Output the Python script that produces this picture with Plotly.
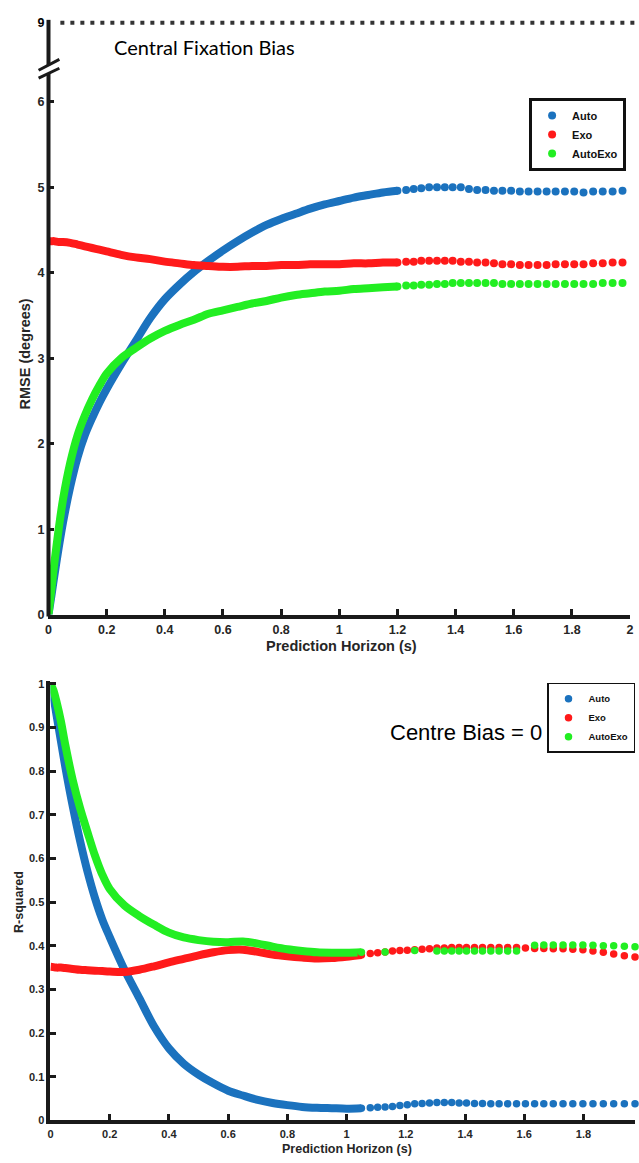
import plotly.graph_objects as go

W, H = 639, 1163

# ---------------- data: top panel (RMSE, degrees) ----------------
horizon_top = [0, 0.01, 0.02, 0.035, 0.05, 0.075, 0.1, 0.125, 0.15, 0.175, 0.2, 0.25, 0.3, 0.35,
               0.4, 0.45, 0.5, 0.55, 0.6, 0.65, 0.7, 0.75, 0.8, 0.85, 0.9, 0.95, 1.0, 1.05, 1.1,
               1.15, 1.2, 1.23, 1.256, 1.282, 1.309, 1.336, 1.363, 1.39, 1.418, 1.446, 1.474,
               1.503, 1.532, 1.561, 1.591, 1.621, 1.651, 1.682, 1.713, 1.744, 1.776, 1.808,
               1.84, 1.873, 1.906, 1.94, 1.974]
rmse_auto = [0, 0.22, 0.45, 0.78, 1.08, 1.5, 1.84, 2.1, 2.3, 2.48, 2.64, 2.93, 3.2, 3.47, 3.69,
             3.86, 4.01, 4.14, 4.26, 4.37, 4.47, 4.56, 4.63, 4.69, 4.75, 4.80, 4.84, 4.88, 4.91,
             4.94, 4.96,
             4.97, 4.98, 4.99, 5.0, 5.0, 5.0, 5.0, 5.0, 4.98, 4.97, 4.97, 4.96, 4.96, 4.96, 4.95,
             4.95, 4.95, 4.95, 4.95, 4.95, 4.95, 4.94, 4.95, 4.95, 4.95, 4.96]
rmse_exo = [4.37, 4.37, 4.37, 4.36, 4.36, 4.35, 4.33, 4.31, 4.29, 4.27, 4.25, 4.21, 4.18, 4.16,
            4.13, 4.11, 4.09, 4.08, 4.07, 4.07, 4.08, 4.08, 4.09, 4.09, 4.10, 4.10, 4.10, 4.11,
            4.11, 4.12, 4.12,
            4.13, 4.13, 4.14, 4.14, 4.14, 4.14, 4.14, 4.13, 4.13, 4.12, 4.12, 4.11, 4.10, 4.10,
            4.09, 4.09, 4.09, 4.09, 4.10, 4.10, 4.10, 4.10, 4.11, 4.11, 4.12, 4.12]
rmse_autoexo = [0, 0.3, 0.6, 1.0, 1.35, 1.78, 2.1, 2.33, 2.52, 2.68, 2.82, 3.0, 3.12, 3.23, 3.32,
                3.39, 3.45, 3.52, 3.56, 3.6, 3.64, 3.67, 3.71, 3.74, 3.76, 3.78, 3.79, 3.81,
                3.82, 3.83, 3.84,
                3.85, 3.85, 3.86, 3.86, 3.87, 3.87, 3.88, 3.88, 3.88, 3.88, 3.88, 3.88, 3.87,
                3.87, 3.87, 3.87, 3.87, 3.87, 3.87, 3.87, 3.87, 3.87, 3.87, 3.88, 3.88, 3.88]
TOP_SPLIT = 30          # from this index on the samples are drawn as separate markers

top_x_ticks = [0, 0.2, 0.4, 0.6, 0.8, 1, 1.2, 1.4, 1.6, 1.8, 2]
top_x_labels = ["0", "0.2", "0.4", "0.6", "0.8", "1", "1.2", "1.4", "1.6", "1.8", "2"]
top_y_ticks = [0, 1, 2, 3, 4, 5, 6]
top_y_labels = ["0", "1", "2", "3", "4", "5", "6"]
BROKEN_LABEL = "9"      # value shown above the axis break
BROKEN_POS = 6.925      # axis position used for the value 9

# ---------------- data: bottom panel (R-squared) ----------------
horizon_bot = [0, 0.01, 0.02, 0.035, 0.05, 0.075, 0.1, 0.125, 0.15, 0.175, 0.2, 0.25, 0.3, 0.35,
               0.4, 0.45, 0.5, 0.55, 0.6, 0.65, 0.7, 0.75, 0.8, 0.85, 0.9, 0.95, 1.0, 1.05,
               1.08, 1.105, 1.13, 1.155, 1.18, 1.205, 1.23, 1.255, 1.28, 1.305, 1.33, 1.355,
               1.38, 1.405, 1.432, 1.459, 1.487, 1.515, 1.544, 1.574, 1.604, 1.635, 1.666,
               1.698, 1.731, 1.764, 1.798, 1.832, 1.867, 1.902, 1.938, 1.974]
r2_auto = [1.0, 0.97, 0.93, 0.87, 0.81, 0.72, 0.64, 0.57, 0.51, 0.46, 0.42, 0.345, 0.28, 0.215,
           0.165, 0.13, 0.105, 0.085, 0.068, 0.057, 0.047, 0.04, 0.035, 0.031, 0.029, 0.028,
           0.027, 0.028,
           0.029, 0.03, 0.031, 0.032, 0.034, 0.036, 0.038, 0.039, 0.04, 0.041, 0.041, 0.041,
           0.04, 0.04, 0.039, 0.039, 0.038, 0.038, 0.038, 0.038, 0.038, 0.038, 0.038, 0.038,
           0.038, 0.038, 0.038, 0.038, 0.038, 0.038, 0.038, 0.038]
r2_exo = [0.352, 0.351, 0.35, 0.35, 0.349, 0.347, 0.345, 0.344, 0.343, 0.342, 0.341, 0.34,
          0.345, 0.353, 0.362, 0.37, 0.378, 0.385, 0.39, 0.391, 0.386, 0.38, 0.376, 0.373,
          0.371, 0.372, 0.375, 0.379,
          0.382, 0.384, 0.386, 0.388, 0.389, 0.39, 0.391, 0.392, 0.393, 0.395, 0.395, 0.396,
          0.396, 0.396, 0.396, 0.396, 0.396, 0.396, 0.396, 0.396, 0.395, 0.394, 0.394, 0.393,
          0.393, 0.392, 0.391, 0.388, 0.385, 0.381, 0.377, 0.374]
r2_autoexo = [1.0, 0.985, 0.96, 0.915, 0.86, 0.78, 0.715, 0.66, 0.607, 0.563, 0.53, 0.492, 0.468,
              0.448, 0.43, 0.419, 0.413, 0.409, 0.408, 0.41, 0.405, 0.398, 0.392, 0.388, 0.385,
              0.384, 0.384, 0.385,
              None, None, 0.386, None, None, None, 0.389, None, None, 0.388, 0.388, 0.388,
              0.388, 0.388, 0.388, 0.388, 0.388, 0.388, 0.388, 0.388, None, 0.401, 0.402,
              0.402, 0.402, 0.402, 0.402, 0.401, 0.4, 0.4, 0.399, 0.398]
BOT_SPLIT = 27

bot_x_ticks = [0, 0.2, 0.4, 0.6, 0.8, 1, 1.2, 1.4, 1.6, 1.8]
bot_x_labels = ["0", "0.2", "0.4", "0.6", "0.8", "1", "1.2", "1.4", "1.6", "1.8"]
bot_y_ticks = [0, 0.1, 0.2, 0.3, 0.4, 0.5, 0.6, 0.7, 0.8, 0.9, 1]
bot_y_labels = ["0", "0.1", "0.2", "0.3", "0.4", "0.5", "0.6", "0.7", "0.8", "0.9", "1"]

series_names = ["Auto", "Exo", "AutoExo"]
series_colors = ["#1b72be", "#ff1a1a", "#22ee22"]

# ---------------- helpers ----------------
def pxx(p):
    return p / W

def pxy(p):
    return 1 - p / H

FONT = "Liberation Sans, Arial, sans-serif"
AX = "#1a1a1a"
TXT = "#262626"

fig = go.Figure()

panels = [
    (horizon_top, [rmse_auto, rmse_exo, rmse_autoexo], TOP_SPLIT, "x", "y", "legend", 8),
    (horizon_bot, [r2_auto, r2_exo, r2_autoexo], BOT_SPLIT, "x2", "y2", "legend2", 7.5),
]
for xs, ys_list, split, xa, ya, lg, msize in panels:
    # continuous (dense) part
    for name, col, ys in zip(series_names, series_colors, ys_list):
        fig.add_trace(go.Scatter(
            x=xs[:split + 1], y=ys[:split + 1], mode="lines", name=name,
            line=dict(color=col, width=8, shape="spline", smoothing=0.9),
            xaxis=xa, yaxis=ya, showlegend=False, legend=lg, hoverinfo="skip"))
    # separated markers
    for name, col, ys in zip(series_names, series_colors, ys_list):
        fig.add_trace(go.Scatter(
            x=xs[split:], y=ys[split:], mode="markers", name=name,
            marker=dict(color=col, size=msize, symbol="circle"),
            xaxis=xa, yaxis=ya, legend=lg, cliponaxis=False))

common_axis = dict(showgrid=False, zeroline=False, ticks="inside", tickcolor=AX,
                   tickwidth=3, fixedrange=True)

fig.update_layout(
    width=W, height=H, margin=dict(l=0, r=0, t=0, b=0),
    paper_bgcolor="white", plot_bgcolor="white",
    xaxis=dict(domain=[pxx(46), pxx(634)], range=[0, 2], anchor="y",
               tickvals=top_x_ticks, ticktext=top_x_labels, ticklen=6,
               showline=True, linewidth=4, linecolor=AX,
               tickfont=dict(family=FONT, size=12.5, color=TXT, weight="bold"),
               **common_axis),
    yaxis=dict(domain=[pxy(615), pxy(16)], range=[0, BROKEN_POS], anchor="x",
               tickvals=top_y_ticks + [BROKEN_POS],
               ticktext=top_y_labels + ["<span style='color:#000'>" + BROKEN_LABEL + "</span>"],
               ticklen=6, showline=False, ticklabelstandoff=3,
               tickfont=dict(family=FONT, size=12.5, color=TXT, weight="bold"),
               **common_axis),
    xaxis2=dict(domain=[pxx(48), 1], range=[0, 1.974], anchor="y2",
                tickvals=bot_x_ticks, ticktext=bot_x_labels, ticklen=6,
                showline=True, linewidth=4, linecolor=AX,
                tickfont=dict(family=FONT, size=11, color=TXT, weight="bold"),
                **common_axis),
    yaxis2=dict(domain=[pxy(1127), pxy(682)], range=[0, 1.0068], anchor="x2",
                tickvals=bot_y_ticks, ticktext=bot_y_labels, ticklen=6,
                showline=True, linewidth=4, linecolor=AX,
                tickfont=dict(family=FONT, size=11, color=TXT, weight="bold"),
                **common_axis),
    legend=dict(x=pxx(630), y=pxy(92), xanchor="right", yanchor="top",
                bgcolor="white", bordercolor="#111", borderwidth=3,
                font=dict(family=FONT, size=11, color="#111", weight="bold"),
                itemwidth=30, tracegroupgap=0),
    legend2=dict(x=1, y=pxy(684), xanchor="right", yanchor="top",
                 bgcolor="white", bordercolor="#111", borderwidth=1.5,
                 font=dict(family=FONT, size=9.5, color="#111", weight="bold"),
                 itemwidth=30, tracegroupgap=0),
    showlegend=True,
)

# broken y axis of the top panel, with the dotted reference line at 9
shapes = [
    dict(type="line", xref="paper", yref="paper", x0=pxx(46), x1=pxx(46),
         y0=pxy(617), y1=pxy(67), line=dict(color=AX, width=4)),
    dict(type="line", xref="paper", yref="paper", x0=pxx(46), x1=pxx(46),
         y0=pxy(59), y1=pxy(13), line=dict(color=AX, width=4)),
    dict(type="line", xref="paper", yref="paper", x0=pxx(36), x1=pxx(57),
         y0=pxy(64), y1=pxy(53), line=dict(color=AX, width=3)),
    dict(type="line", xref="paper", yref="paper", x0=pxx(36), x1=pxx(57),
         y0=pxy(72), y1=pxy(62), line=dict(color=AX, width=3)),
    dict(type="line", xref="paper", yref="paper", x0=pxx(58), x1=1,
         y0=pxy(16), y1=pxy(16), line=dict(color="#333", width=4, dash="4px,6px")),
]
fig.update_layout(shapes=shapes)

ann = [
    dict(text="Central Fixation Bias", x=pxx(110), y=pxy(40), xanchor="left", yanchor="middle",
         font=dict(family="Lato, Open Sans, sans-serif", size=20, color="#000")),
    dict(text="Centre Bias = 0", x=pxx(389), y=pxy(734), xanchor="left", yanchor="middle",
         font=dict(family=FONT, size=22, color="#000")),
    dict(text="RMSE (degrees)", x=pxx(22), y=pxy(351), textangle=-90,
         xanchor="center", yanchor="middle",
         font=dict(family=FONT, size=14.5, color=TXT, weight="bold")),
    dict(text="Prediction Horizon (s)", x=pxx(342), y=pxy(647), xanchor="center", yanchor="middle",
         font=dict(family=FONT, size=14.5, color=TXT, weight="bold")),
    dict(text="R-squared", x=pxx(16), y=pxy(906), textangle=-90,
         xanchor="center", yanchor="middle",
         font=dict(family=FONT, size=12.5, color=TXT, weight="bold")),
    dict(text="Prediction Horizon (s)", x=pxx(348), y=pxy(1156), xanchor="center", yanchor="middle",
         font=dict(family=FONT, size=12.5, color=TXT, weight="bold")),
]
for a in ann:
    a.update(xref="paper", yref="paper", showarrow=False)
fig.update_layout(annotations=ann)

fig.write_html("out.html")
